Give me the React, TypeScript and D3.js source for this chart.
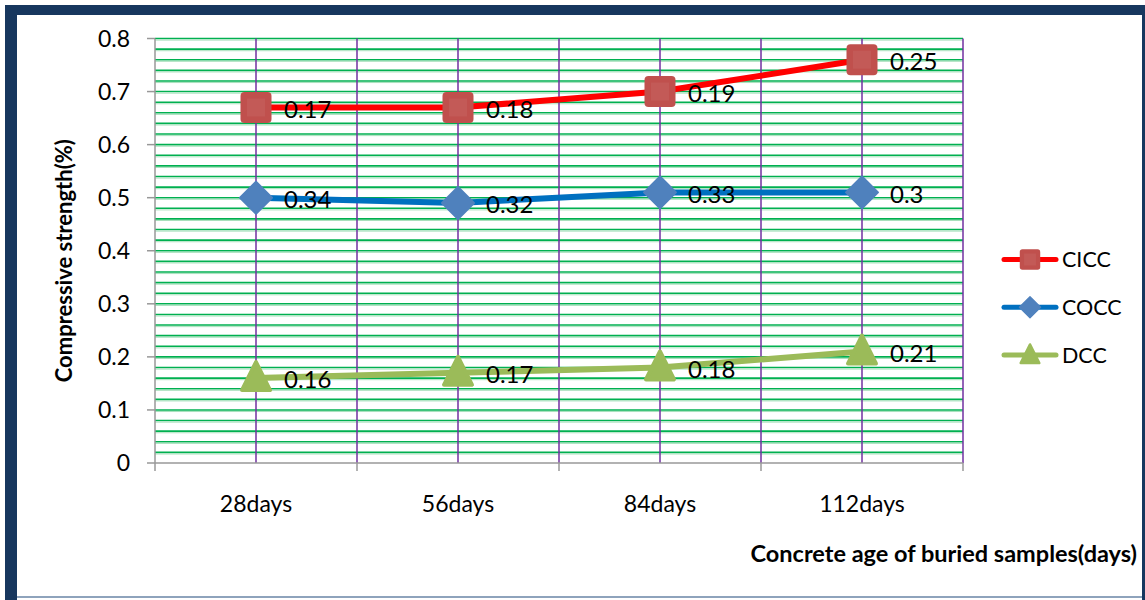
import React from "react";
import * as d3 from "d3";

const categories = ["28days", "56days", "84days", "112days"];
const ciccValues = [0.67, 0.67, 0.70, 0.76];
const coccValues = [0.50, 0.49, 0.51, 0.51];
const dccValues = [0.16, 0.17, 0.18, 0.21];
const ciccLabels = ["0.17", "0.18", "0.19", "0.25"];
const coccLabels = ["0.34", "0.32", "0.33", "0.3"];
const dccLabels = ["0.16", "0.17", "0.18", "0.21"];
const yTicks = [0, 0.1, 0.2, 0.3, 0.4, 0.5, 0.6, 0.7, 0.8];

const W = 1145;
const H = 600;
const plot = { left: 155, right: 963, top: 38.5, bottom: 463 };
const FONT = "Lato, 'Open Sans', sans-serif";

type Series = {
  name: string;
  values: number[];
  labels: string[];
  line: string;
  fill: string;
  marker: "square" | "diamond" | "triangle";
};

const series: Series[] = [
  { name: "CICC", values: ciccValues, labels: ciccLabels, line: "#FF0000", fill: "#C0504D", marker: "square" },
  { name: "COCC", values: coccValues, labels: coccLabels, line: "#0070C0", fill: "#4F81BD", marker: "diamond" },
  { name: "DCC", values: dccValues, labels: dccLabels, line: "#9BBB59", fill: "#9BBB59", marker: "triangle" },
];

function Marker({ kind, x, y, fill, k = 1 }: { kind: string; x: number; y: number; fill: string; k?: number }) {
  if (kind === "square") {
    const h = 15.5 * k;
    return (
      <g>
        <rect x={x - h} y={y - h} width={2 * h} height={2 * h} rx={4 * k} fill={fill} />
        <rect x={x - 9 * k} y={y - 9 * k} width={18 * k} height={18 * k} fill="#ffffff" opacity={0.06} />
      </g>
    );
  }
  if (kind === "diamond") {
    const r = 16 * k;
    return (
      <path
        d={`M${x},${y - r}L${x + r},${y}L${x},${y + r}L${x - r},${y}Z`}
        fill={fill}
        stroke={fill}
        strokeWidth={2 * k}
        strokeLinejoin="round"
      />
    );
  }
  const hw = 14 * k;
  return (
    <path
      d={`M${x},${y - 16 * k}L${x + hw},${y + 12 * k}L${x - hw},${y + 12 * k}Z`}
      fill={fill}
      stroke={fill}
      strokeWidth={4 * k}
      strokeLinejoin="round"
    />
  );
}

export default function App() {
  const x = d3.scaleBand<string>().domain(categories).range([plot.left, plot.right]);
  const y = d3.scaleLinear().domain([0, 0.8]).range([plot.bottom, plot.top]);
  const cx = (c: string) => (x(c) as number) + x.bandwidth() / 2;
  const minorTicks = d3.range(0, 0.8001, 0.02).map((v) => +v.toFixed(2)).filter((v) => v > 0);
  const line = d3
    .line<number>()
    .x((_, i) => cx(categories[i]))
    .y((v) => y(v));
  const boundaries = categories.map((c) => (x(c) as number) + x.bandwidth()).concat([plot.left]);

  return (
    <svg width={W} height={H} style={{ position: "absolute", left: 0, top: 0 }}>
      <rect x={0} y={0} width={W} height={H} fill="#ffffff" />
      {/* frame */}
      <rect x={5} y={5} width={W - 5} height={10} fill="#17375E" />
      <rect x={5} y={5} width={12} height={H - 5} fill="#17375E" />
      <rect x={W - 3} y={5} width={3} height={H - 5} fill="#17375E" />
      <rect x={17} y={H - 4} width={W - 20} height={2} fill="#8EA3BC" />

      {/* horizontal gridlines */}
      {minorTicks.map((v) => (
        <g key={v}>
          <line x1={plot.left} x2={plot.right} y1={y(v)} y2={y(v)} stroke="#00B050" strokeWidth={1.6} />
          <line x1={plot.left} x2={plot.right} y1={y(v) + 1.6} y2={y(v) + 1.6} stroke="#A8E0BC" strokeWidth={1} />
        </g>
      ))}

      {/* vertical gridlines */}
      {categories.map((c) => (
        <line key={"c" + c} x1={cx(c)} x2={cx(c)} y1={plot.top} y2={plot.bottom} stroke="#7030A0" strokeWidth={1.5} />
      ))}
      {categories.map((c) => {
        const bx = (x(c) as number) + x.bandwidth();
        return <line key={"b" + c} x1={bx} x2={bx} y1={plot.top} y2={plot.bottom} stroke="#7030A0" strokeWidth={1.5} />;
      })}

      {/* y axis */}
      <line x1={plot.left} x2={plot.left} y1={plot.top} y2={plot.bottom} stroke="#989898" strokeWidth={1.5} />
      {yTicks.map((t) => (
        <g key={t}>
          <line x1={plot.left - 8} x2={plot.left} y1={y(t)} y2={y(t)} stroke="#989898" strokeWidth={1.5} />
          <text x={plot.left - 25} y={y(t)} dy="0.36em" textAnchor="end" fontFamily={FONT} fontSize={23} fill="#000">
            {t === 0 ? "0" : t.toFixed(1)}
          </text>
        </g>
      ))}

      {/* x axis */}
      <line x1={plot.left} x2={plot.right} y1={plot.bottom} y2={plot.bottom} stroke="#989898" strokeWidth={1.5} />
      {boundaries.map((bx, i) => (
        <line key={"t" + i} x1={bx} x2={bx} y1={plot.bottom} y2={plot.bottom + 8} stroke="#989898" strokeWidth={1.5} />
      ))}
      {categories.map((c) => (
        <text key={"l" + c} x={cx(c)} y={512} textAnchor="middle" fontFamily={FONT} fontSize={23} fill="#000">
          {c}
        </text>
      ))}

      {/* series lines */}
      {series.map((s) => (
        <path key={"p" + s.name} d={line(s.values) || ""} fill="none" stroke={s.line} strokeWidth={6} strokeLinejoin="round" />
      ))}
      {/* markers */}
      {series.map((s) =>
        s.values.map((v, i) => (
          <Marker key={s.name + i} kind={s.marker} x={cx(categories[i])} y={y(v)} fill={s.fill} />
        ))
      )}
      {/* data labels */}
      {series.map((s) =>
        s.values.map((v, i) => (
          <text
            key={"dl" + s.name + i}
            x={cx(categories[i]) + 28}
            y={y(v) + 1}
            dy="0.38em"
            fontFamily={FONT}
            fontSize={24}
            fill="#000"
          >
            {s.labels[i]}
          </text>
        ))
      )}

      {/* legend */}
      {series.map((s, i) => {
        const ly = 259.5 + i * 47.8;
        return (
          <g key={"lg" + s.name}>
            <line x1={1004} x2={1056} y1={ly} y2={ly} stroke={s.line} strokeWidth={5} strokeLinecap="round" />
            <Marker kind={s.marker} x={1030} y={ly} fill={s.fill} k={0.66} />
            <text x={1062} y={ly} dy="0.36em" fontFamily={FONT} fontSize={21.5} fill="#000">
              {s.name}
            </text>
          </g>
        );
      })}

      {/* axis titles */}
      <text
        transform={`translate(72,${(plot.top + plot.bottom) / 2 + 10}) rotate(-90)`}
        textAnchor="middle"
        fontFamily={FONT}
        fontWeight="bold"
        fontSize={22}
        fill="#000"
      >
        Compressive strength(%)
      </text>
      <text x={1137} y={562} textAnchor="end" fontFamily={FONT} fontWeight="bold" fontSize={23.5} fill="#000">
        Concrete age of buried samples(days)
      </text>
    </svg>
  );
}
